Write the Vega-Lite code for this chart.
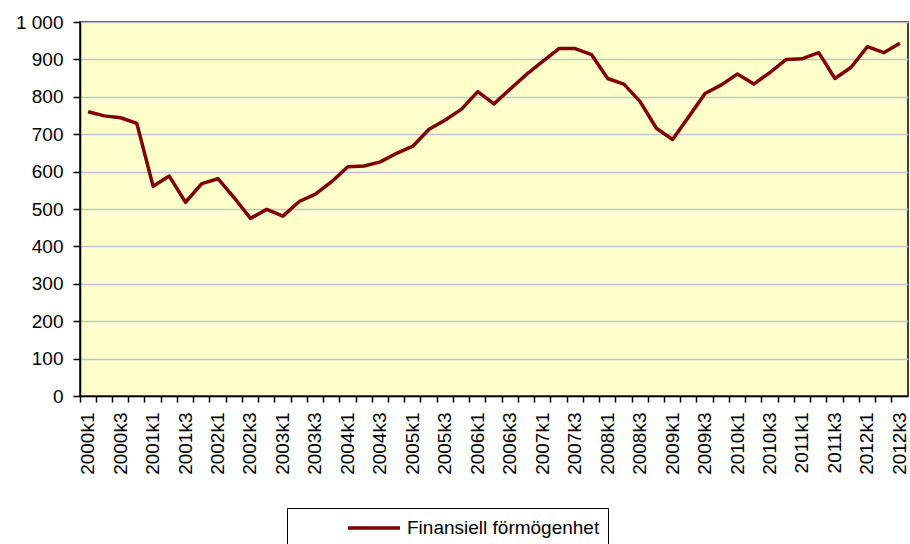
{
  "$schema": "https://vega.github.io/schema/vega-lite/v6.json",
  "autosize": {"type": "none"},
  "width": 828,
  "height": 374,
  "padding": {"left": 80, "top": 22, "right": 2, "bottom": 148},
  "background": "white",
  "config": {
    "font": "Liberation Sans",
    "view": {"fill": "#FFFFCC", "stroke": "#000000", "strokeWidth": 1.5}
  },
  "data": {
    "values": [
      {"q": "2000k1", "v": 760, "s": "Finansiell förmögenhet"},
      {"q": "2000k2", "v": 749, "s": "Finansiell förmögenhet"},
      {"q": "2000k3", "v": 744, "s": "Finansiell förmögenhet"},
      {"q": "2000k4", "v": 729, "s": "Finansiell förmögenhet"},
      {"q": "2001k1", "v": 561, "s": "Finansiell förmögenhet"},
      {"q": "2001k2", "v": 588, "s": "Finansiell förmögenhet"},
      {"q": "2001k3", "v": 518, "s": "Finansiell förmögenhet"},
      {"q": "2001k4", "v": 568, "s": "Finansiell förmögenhet"},
      {"q": "2002k1", "v": 581, "s": "Finansiell förmögenhet"},
      {"q": "2002k2", "v": 530, "s": "Finansiell förmögenhet"},
      {"q": "2002k3", "v": 475, "s": "Finansiell förmögenhet"},
      {"q": "2002k4", "v": 499, "s": "Finansiell förmögenhet"},
      {"q": "2003k1", "v": 481, "s": "Finansiell förmögenhet"},
      {"q": "2003k2", "v": 520, "s": "Finansiell förmögenhet"},
      {"q": "2003k3", "v": 540, "s": "Finansiell förmögenhet"},
      {"q": "2003k4", "v": 573, "s": "Finansiell förmögenhet"},
      {"q": "2004k1", "v": 613, "s": "Finansiell förmögenhet"},
      {"q": "2004k2", "v": 615, "s": "Finansiell förmögenhet"},
      {"q": "2004k3", "v": 626, "s": "Finansiell förmögenhet"},
      {"q": "2004k4", "v": 649, "s": "Finansiell förmögenhet"},
      {"q": "2005k1", "v": 668, "s": "Finansiell förmögenhet"},
      {"q": "2005k2", "v": 713, "s": "Finansiell förmögenhet"},
      {"q": "2005k3", "v": 738, "s": "Finansiell förmögenhet"},
      {"q": "2005k4", "v": 767, "s": "Finansiell förmögenhet"},
      {"q": "2006k1", "v": 814, "s": "Finansiell förmögenhet"},
      {"q": "2006k2", "v": 781, "s": "Finansiell förmögenhet"},
      {"q": "2006k3", "v": 821, "s": "Finansiell förmögenhet"},
      {"q": "2006k4", "v": 860, "s": "Finansiell förmögenhet"},
      {"q": "2007k1", "v": 895, "s": "Finansiell förmögenhet"},
      {"q": "2007k2", "v": 929, "s": "Finansiell förmögenhet"},
      {"q": "2007k3", "v": 929, "s": "Finansiell förmögenhet"},
      {"q": "2007k4", "v": 913, "s": "Finansiell förmögenhet"},
      {"q": "2008k1", "v": 849, "s": "Finansiell förmögenhet"},
      {"q": "2008k2", "v": 834, "s": "Finansiell förmögenhet"},
      {"q": "2008k3", "v": 787, "s": "Finansiell förmögenhet"},
      {"q": "2008k4", "v": 716, "s": "Finansiell förmögenhet"},
      {"q": "2009k1", "v": 686, "s": "Finansiell förmögenhet"},
      {"q": "2009k2", "v": 747, "s": "Finansiell förmögenhet"},
      {"q": "2009k3", "v": 809, "s": "Finansiell förmögenhet"},
      {"q": "2009k4", "v": 832, "s": "Finansiell förmögenhet"},
      {"q": "2010k1", "v": 861, "s": "Finansiell förmögenhet"},
      {"q": "2010k2", "v": 834, "s": "Finansiell förmögenhet"},
      {"q": "2010k3", "v": 865, "s": "Finansiell förmögenhet"},
      {"q": "2010k4", "v": 900, "s": "Finansiell förmögenhet"},
      {"q": "2011k1", "v": 902, "s": "Finansiell förmögenhet"},
      {"q": "2011k2", "v": 918, "s": "Finansiell förmögenhet"},
      {"q": "2011k3", "v": 849, "s": "Finansiell förmögenhet"},
      {"q": "2011k4", "v": 879, "s": "Finansiell förmögenhet"},
      {"q": "2012k1", "v": 934, "s": "Finansiell förmögenhet"},
      {"q": "2012k2", "v": 918, "s": "Finansiell förmögenhet"},
      {"q": "2012k3", "v": 943, "s": "Finansiell förmögenhet"}
    ]
  },
  "encoding": {
    "y": {
      "field": "v",
      "type": "quantitative",
      "scale": {"domain": [0, 1000], "nice": false},
      "axis": {
        "title": null,
        "values": [0, 100, 200, 300, 400, 500, 600, 700, 800, 900, 1000],
        "labelExpr": "replace(format(datum.value, ','), ',', ' ')",
        "labelFontSize": 19,
        "labelColor": "#000000",
        "labelPadding": 10,
        "tickSize": 7,
        "tickWidth": 1.5,
        "tickColor": "#000000",
        "domainColor": "#000000",
        "domainWidth": 1.5,
        "grid": true,
        "gridColor": "#BCC3D2",
        "gridWidth": 1.5
      }
    }
  },
  "resolve": {"axis": {"x": "independent"}},
  "layer": [
    {
      "mark": {"type": "line", "strokeOpacity": 0},
      "encoding": {
        "x": {
          "field": "q",
          "type": "ordinal",
          "sort": null,
          "scale": {"type": "band", "paddingInner": 0, "paddingOuter": 0},
          "axis": {
            "title": null,
            "orient": "bottom",
            "bandPosition": 0,
            "labels": false,
            "tickSize": 6,
            "tickWidth": 1.5,
            "tickColor": "#000000",
            "domainColor": "#000000",
            "domainWidth": 1.5,
            "grid": false
          }
        }
      }
    },
    {
      "mark": {"type": "line", "strokeWidth": 3.5, "strokeJoin": "round"},
      "encoding": {
        "x": {
          "field": "q",
          "type": "ordinal",
          "sort": null,
          "scale": {"type": "band", "paddingInner": 0, "paddingOuter": 0},
          "axis": {
            "title": null,
            "orient": "bottom",
            "labelAngle": -90,
            "labelAlign": "right",
            "labelBaseline": "middle",
            "labelFontSize": 19,
            "labelColor": "#000000",
            "labelPadding": 16,
            "labelExpr": "(indexof(datum.value, 'k2') >= 0 || indexof(datum.value, 'k4') >= 0) ? '' : datum.value",
            "labelOverlap": false,
            "ticks": false,
            "domain": false,
            "grid": false
          }
        },
        "color": {
          "field": "s",
          "type": "nominal",
          "scale": {"range": ["#800000"]},
          "legend": {
            "title": null,
            "orient": "none",
            "legendX": 207,
            "legendY": 486,
            "direction": "horizontal",
            "symbolType": "M-2.6,0H2.6",
            "symbolSize": 400,
            "symbolStrokeWidth": 3.5,
            "symbolOffset": 67,
            "labelFontSize": 19,
            "labelColor": "#000000",
            "labelOffset": 21,
            "labelLimit": 500,
            "padding": 8,
            "strokeColor": "#000000",
            "fillColor": "#FFFFFF"
          }
        }
      }
    }
  ]
}
